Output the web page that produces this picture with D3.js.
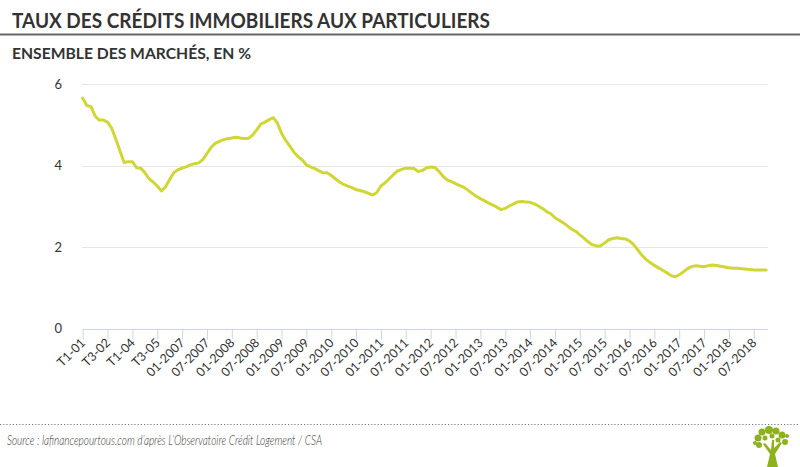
<!DOCTYPE html>
<html><head><meta charset="utf-8">
<script src="https://cdn.jsdelivr.net/npm/d3@7"></script>
<style>
body{margin:0;background:#fff;}
svg{display:block;font-family:Lato,"Open Sans",sans-serif;}
</style></head>
<body><svg id="c" width="800" height="467"></svg>
<script>
// ---- data ----
const tickLabels = ["T1-01","T3-02","T1-04","T3-05","01-2007","07-2007","01-2008","07-2008","01-2009","07-2009","01-2010","07-2010","01-2011","07-2011","01-2012","07-2012","01-2013","07-2013","01-2014","07-2014","01-2015","07-2015","01-2016","07-2016","01-2017","07-2017","01-2018","07-2018"];
// quarterly T1-2001 .. T4-2006
const ratesQuarterly = [5.66,5.48,5.45,5.22,5.12,5.12,5.07,4.92,4.65,4.36,4.08,4.10,4.10,3.95,3.94,3.83,3.68,3.60,3.50,3.38,3.48,3.66,3.83,3.90];
// monthly 01-2007 .. 10-2018
const ratesMonthly = [3.94,3.97,4.02,4.05,4.07,4.15,4.30,4.45,4.55,4.60,4.64,4.66,
4.68,4.70,4.68,4.67,4.67,4.75,4.88,5.02,5.07,5.13,5.18,5.05,
4.80,4.62,4.48,4.33,4.22,4.14,4.02,3.97,3.93,3.88,3.82,3.83,
3.76,3.68,3.60,3.54,3.50,3.46,3.41,3.39,3.36,3.32,3.28,3.34,
3.50,3.58,3.68,3.78,3.87,3.91,3.94,3.94,3.93,3.86,3.88,3.95,
3.97,3.96,3.86,3.74,3.65,3.61,3.56,3.51,3.47,3.40,3.32,3.25,
3.19,3.14,3.08,3.03,2.98,2.92,2.95,3.01,3.06,3.11,3.12,3.11,
3.10,3.06,3.01,2.95,2.87,2.82,2.72,2.66,2.60,2.52,2.44,2.39,
2.30,2.22,2.13,2.06,2.03,2.03,2.10,2.18,2.21,2.23,2.21,2.20,
2.15,2.06,1.93,1.80,1.70,1.62,1.55,1.49,1.43,1.37,1.30,1.27,
1.32,1.39,1.47,1.52,1.54,1.53,1.52,1.54,1.56,1.55,1.53,1.51,
1.49,1.48,1.48,1.47,1.46,1.45,1.44,1.44,1.44,1.44];
const yTicks = [0,2,4,6];
const title = "TAUX DES CRÉDITS IMMOBILIERS AUX PARTICULIERS";
const subtitle = "ENSEMBLE DES MARCHÉS, EN %";
const source = "Source : lafinancepourtous.com d’après L’Observatoire Crédit Logement / CSA";

const rates = ratesQuarterly.concat(ratesMonthly);
const tickStep = 6;

// ---- chart ----
const svg = d3.select("#c");
const x = d3.scaleLinear().domain([0, rates.length - 1]).range([82.7, 766.2]);
const y = d3.scaleLinear().domain([0, 6]).range([328.5, 84.3]);

// title
svg.append("text").attr("x", 12).attr("y", 28).text(title)
  .attr("font-size", 21).attr("font-weight", 700).attr("fill", "#333")
  .attr("textLength", 478).attr("lengthAdjust", "spacingAndGlyphs");
svg.append("line").attr("x1", 0).attr("x2", 800).attr("y1", 34.5).attr("y2", 34.5)
  .attr("stroke", "#666").attr("stroke-width", 2);
svg.append("text").attr("x", 12).attr("y", 59).text(subtitle)
  .attr("font-size", 16).attr("font-weight", 700).attr("fill", "#333")
  .attr("textLength", 239).attr("lengthAdjust", "spacingAndGlyphs");

// grid
svg.append("g").selectAll("line").data(yTicks.filter(d => d > 0)).join("line")
  .attr("x1", 82).attr("x2", 768).attr("y1", d => Math.round(y(d)) + 0.5).attr("y2", d => Math.round(y(d)) + 0.5)
  .attr("stroke", "#e6e6e6");
svg.append("g").selectAll("text").data(yTicks).join("text")
  .attr("x", 62).attr("y", d => y(d) + 4.5).attr("text-anchor", "end")
  .attr("font-size", 13).attr("fill", "#333").text(d => d);

// x axis
const tickIdx = tickLabels.map((_, i) => i * tickStep);
const xAxis = d3.axisBottom(x).tickValues(tickIdx).tickSize(10).tickFormat((d, i) => tickLabels[i]);
const gx = svg.append("g").attr("transform", "translate(0,329.5)").call(xAxis);
gx.select(".domain").attr("d", "M82,0H768").attr("stroke", "#ccd6eb");
gx.selectAll(".tick line").attr("stroke", "#ccd6eb");
gx.selectAll(".tick text")
  .attr("font-family", "Lato,'Open Sans',sans-serif").attr("font-size", 12.5).attr("fill", "#333")
  .attr("text-anchor", "end").attr("dy", null).attr("y", null)
  .attr("transform", "translate(3,14) rotate(-45)");

// line
svg.append("path").datum(rates)
  .attr("d", d3.line().x((d, i) => x(i)).y(d => y(d)).curve(d3.curveLinear))
  .attr("fill", "none").attr("stroke", "#d0d634").attr("stroke-width", 3)
  .attr("stroke-linejoin", "round").attr("stroke-linecap", "round");

// footer
svg.append("line").attr("x1", 0).attr("x2", 800).attr("y1", 424.5).attr("y2", 424.5)
  .attr("stroke", "#777").attr("stroke-width", 1.2).attr("stroke-dasharray", "1.2,2");
svg.append("text").attr("x", 7).attr("y", 445).text(source)
  .attr("font-size", 13.5).attr("font-style", "italic").attr("font-weight", 300).attr("fill", "#333")
  .attr("textLength", 315).attr("lengthAdjust", "spacingAndGlyphs");

// logo tree
const logo = svg.append("g").attr("transform", "translate(772,448)").attr("fill", "#8db21e");
logo.append("path").attr("d", "M-5,19 L-2,6 L-9,-4 L-7,-5 L-1,2 L0,-8 L2,-8 L2,0 L8,-6 L10,-5 L3,6 L6,19 Z");
[[-14,-10,3.5],[-10,-16,3.5],[-3,-18,4],[4,-17,3.5],[10,-13,3.5],[13,-6,3],[-13,-3,3],[-17,-5,2],[6,-8,2.5],[-7,-10,2.5],[0,-12,2.5],[15,-12,2]].forEach(c =>
  logo.append("circle").attr("cx", c[0]).attr("cy", c[1]).attr("r", c[2]));
</script></body></html>
